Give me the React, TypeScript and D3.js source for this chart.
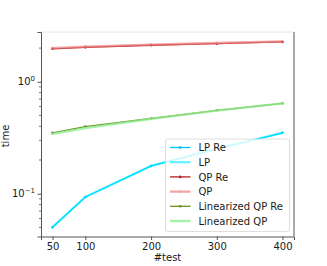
import React, { useRef, useEffect } from 'react';
import * as d3 from 'd3';

const tests = [50, 100, 200, 300, 400];
const xTicks = [50, 100, 200, 300, 400];

const lpRe = [0.0502, 0.0934, 0.177, 0.252, 0.35];
const lp = [0.0502, 0.0934, 0.177, 0.252, 0.35];
const qpRe = [1.97, 2.03, 2.12, 2.19, 2.27];
const qp = [2.0, 2.06, 2.15, 2.22, 2.3];
const linQpRe = [0.35, 0.398, 0.47, 0.556, 0.642];
const linQp = [0.342, 0.386, 0.466, 0.552, 0.64];

const seriesNames = ['LP Re', 'LP', 'QP Re', 'QP', 'Linearized QP Re', 'Linearized QP'];
const seriesValues = [lpRe, lp, qpRe, qp, linQpRe, linQp];

const styles = [
  { color: '#00bfff', width: 1.3, opacity: 1 },
  { color: '#00f0ff', width: 2.3, opacity: 0.6 },
  { color: '#b22222', width: 1.3, opacity: 1 },
  { color: '#f08080', width: 2.3, opacity: 0.7 },
  { color: '#6b8e23', width: 1.3, opacity: 1 },
  { color: '#90ee90', width: 2.3, opacity: 0.8 },
];

const Chart = ({ width = 327, height = 266 }) => {
  const svgRef = useRef(null);

  useEffect(() => {
    const svg = d3.select(svgRef.current)
      .attr('width', width)
      .attr('height', height);
    svg.selectAll('*').remove();

    const margin = { top: 32, right: 33, bottom: 29.5, left: 41 };
    const innerWidth = width - margin.left - margin.right;
    const innerHeight = height - margin.top - margin.bottom;
    const font = 'DejaVu Sans, sans-serif';
    const textColor = '#1a1a1a';

    const g = svg.append('g')
      .attr('transform', `translate(${margin.left}, ${margin.top})`);

    // marges de 5% comme matplotlib
    const xMin = d3.min(tests), xMax = d3.max(tests);
    const xPad = (xMax - xMin) * 0.05;
    const xScale = d3.scaleLinear()
      .domain([xMin - xPad, xMax + xPad])
      .range([0, innerWidth]);

    const all = seriesValues.flat();
    const lMin = Math.log10(d3.min(all)), lMax = Math.log10(d3.max(all));
    const lPad = (lMax - lMin) * 0.05;
    const yScale = d3.scaleLog()
      .domain([10 ** (lMin - lPad), 10 ** (lMax + lPad)])
      .range([innerHeight, 0]);

    // lignes
    const line = d3.line()
      .x((d, i) => xScale(tests[i]))
      .y(d => yScale(d));

    seriesValues.forEach((vals, k) => {
      const s = styles[k];
      const sg = g.append('g').attr('opacity', s.opacity);
      sg.append('path')
        .datum(vals)
        .attr('d', line)
        .attr('fill', 'none')
        .attr('stroke', s.color)
        .attr('stroke-width', s.width)
        .attr('stroke-linejoin', 'round');
      sg.selectAll('circle')
        .data(vals)
        .enter()
        .append('circle')
        .attr('cx', (d, i) => xScale(tests[i]))
        .attr('cy', d => yScale(d))
        .attr('r', 1.3)
        .attr('fill', s.color);
    });

    // axes
    const spine = '#555';
    g.append('line').attr('x1', 0).attr('x2', innerWidth).attr('y1', 0).attr('y2', 0)
      .attr('stroke', '#e6e6e6').attr('stroke-width', 1);
    g.append('line').attr('x1', innerWidth).attr('x2', innerWidth).attr('y1', 0).attr('y2', innerHeight)
      .attr('stroke', spine).attr('stroke-width', 1);

    const xAxis = g.append('g')
      .attr('transform', `translate(0, ${innerHeight})`)
      .call(d3.axisBottom(xScale).tickValues(xTicks).tickSize(3.5).tickPadding(3).tickFormat(d3.format('d')));
    xAxis.select('.domain').attr('stroke', spine);
    xAxis.selectAll('.tick line').attr('stroke', spine);
    xAxis.selectAll('text').attr('font-family', font).attr('font-size', 10).attr('fill', textColor);

    const [yLo, yHi] = yScale.domain();
    const minor = [];
    for (let e = Math.floor(Math.log10(yLo)); e <= Math.ceil(Math.log10(yHi)); e++) {
      for (let m = 2; m <= 9; m++) {
        const v = m * 10 ** e;
        if (v >= yLo && v <= yHi) minor.push(v);
      }
    }
    const major = [0.1, 1];

    const yAxis = g.append('g')
      .call(d3.axisLeft(yScale).tickValues(major).tickSize(3.5).tickFormat(() => ''));
    yAxis.select('.domain').attr('stroke', spine);
    yAxis.selectAll('.tick line').attr('stroke', spine);

    g.append('g').selectAll('line')
      .data(minor)
      .enter()
      .append('line')
      .attr('x1', -2).attr('x2', 0)
      .attr('y1', d => yScale(d)).attr('y2', d => yScale(d))
      .attr('stroke', spine).attr('stroke-width', 0.8);

    major.forEach(v => {
      const exp = Math.round(Math.log10(v));
      const t = g.append('text')
        .attr('x', -6)
        .attr('y', yScale(v) + 3.5)
        .attr('text-anchor', 'end')
        .attr('font-family', font)
        .attr('font-size', 10)
        .attr('fill', textColor);
      t.append('tspan').text('10');
      t.append('tspan').attr('dy', -4).attr('font-size', 7).text(exp === 0 ? '0' : '\u2212' + Math.abs(exp));
    });

    // titres des axes
    svg.append('text')
      .attr('x', margin.left + innerWidth / 2)
      .attr('y', 261)
      .attr('text-anchor', 'middle')
      .attr('font-family', font)
      .attr('font-size', 10)
      .attr('fill', textColor)
      .text('#test');

    svg.append('text')
      .attr('transform', `translate(9, 136) rotate(-90)`)
      .attr('text-anchor', 'middle')
      .attr('font-family', font)
      .attr('font-size', 10)
      .attr('fill', textColor)
      .text('time');

    // légende
    const lx = 165.5 - margin.left, ly = 139 - margin.top;
    const lw = 124, lh = 92.5;
    const legend = g.append('g').attr('transform', `translate(${lx}, ${ly})`);
    legend.append('rect')
      .attr('width', lw).attr('height', lh)
      .attr('rx', 2)
      .attr('fill', 'white').attr('fill-opacity', 0.8)
      .attr('stroke', '#d6d6d6').attr('stroke-width', 0.8);

    seriesNames.forEach((name, k) => {
      const s = styles[k];
      const yy = 8.5 + k * 14.7;
      const item = legend.append('g');
      const h = item.append('g').attr('opacity', s.opacity);
      h.append('line')
        .attr('x1', 4.5).attr('x2', 25)
        .attr('y1', yy).attr('y2', yy)
        .attr('stroke', s.color).attr('stroke-width', s.width);
      h.append('circle')
        .attr('cx', 14.7).attr('cy', yy).attr('r', 1.3)
        .attr('fill', s.color);
      item.append('text')
        .attr('x', 33)
        .attr('y', yy + 3.6)
        .attr('font-family', font)
        .attr('font-size', 10)
        .attr('fill', textColor)
        .text(name);
    });
  }, [width, height]);

  return (
    <svg ref={svgRef} style={{ position: 'absolute', left: 0, top: 0, background: 'white' }}></svg>
  );
};

export default function App() {
  return <Chart />;
}
